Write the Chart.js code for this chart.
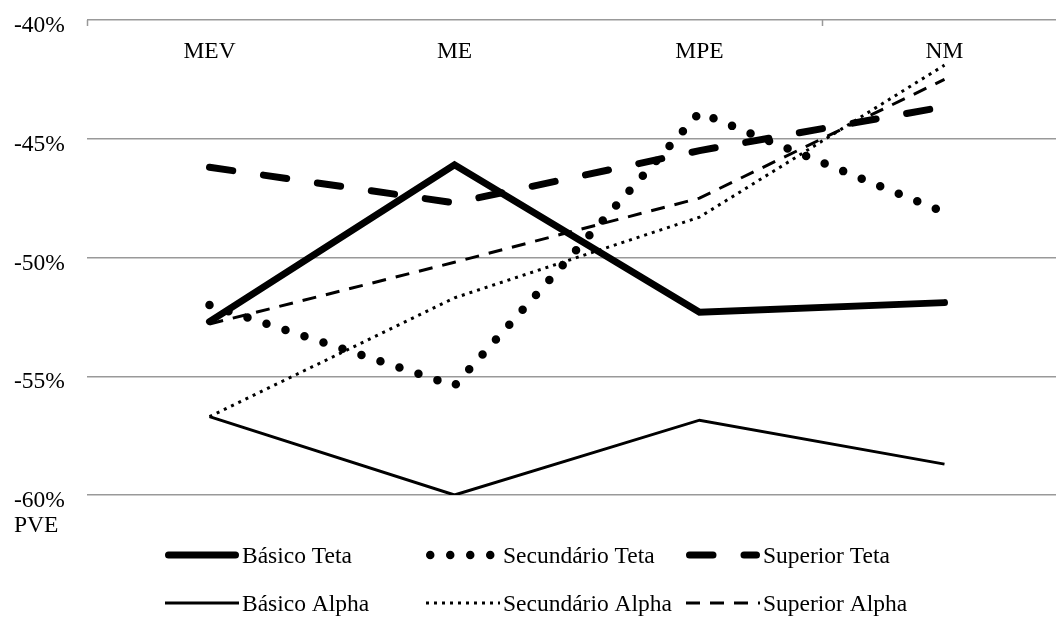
<!DOCTYPE html>
<html><head><meta charset="utf-8">
<script src="https://cdn.jsdelivr.net/npm/chart.js@4/dist/chart.umd.min.js"></script>
<style>
html,body{margin:0;padding:0;overflow:hidden;background:#fff;width:1056px;height:617px}
#wrap{position:relative;width:1070px;height:617px}
</style></head>
<body><div id="wrap"><canvas id="c" width="1070" height="617"></canvas></div>
<script>
const categories = ['MEV', 'ME', 'MPE', 'NM'];
const basicoTeta = [-52.7, -46.1, -52.3, -51.9];
const secundarioTeta = [-52.0, -55.4, -43.9, -48.1];
const superiorTeta = [-46.2, -47.7, -45.5, -43.65];
const basicoAlpha = [-56.7, -60.0, -56.85, -58.7];
const secundarioAlpha = [-56.7, -51.7, -48.3, -41.9];
const superiorAlpha = [-52.8, -50.2, -47.5, -42.5];
const yTicks = [-60, -55, -50, -45, -40];
const yAxisTitle = 'PVE';
const seriesNames = ['Básico Teta', 'Secundário Teta', 'Superior Teta', 'Básico Alpha', 'Secundário Alpha', 'Superior Alpha'];

const FONT = '"Liberation Serif", "Times New Roman", serif';
const FSIZE = 23.5;
const styles = [
  {w: 7, dash: [], cap: 'round'},
  {w: 8.5, dash: [0, 20], cap: 'round'},
  {w: 7, dash: [23.5, 31], cap: 'round'},
  {w: 3, dash: [], cap: 'butt'},
  {w: 3, dash: [3, 5], cap: 'butt'},
  {w: 3, dash: [14, 10], cap: 'butt'}
];
const seriesData = [basicoTeta, secundarioTeta, superiorTeta, basicoAlpha, secundarioAlpha, superiorAlpha];

const datasets = seriesData.map((d, i) => ({
  label: seriesNames[i],
  data: d,
  borderColor: '#000',
  backgroundColor: '#000',
  borderWidth: styles[i].w,
  borderDash: styles[i].dash,
  borderCapStyle: styles[i].cap,
  borderJoinStyle: 'miter',
  pointRadius: 0,
  pointHoverRadius: 0,
  tension: 0,
  fill: false
}));

const decor = {
  id: 'decor',
  afterDraw(chart) {
    const {ctx, chartArea: a, scales: {x, y}} = chart;
    ctx.save();
    // tick marks on category axis (interval 3)
    ctx.strokeStyle = '#999';
    ctx.lineWidth = 1.5;
    [-0.5, 2.5].forEach(v => {
      const px = Math.round(x.getPixelForValue(v)) + 0.5;
      ctx.beginPath();
      ctx.moveTo(px, a.top);
      ctx.lineTo(px, a.top + 6);
      ctx.stroke();
    });
    // category labels
    ctx.fillStyle = '#000';
    ctx.font = FSIZE + 'px ' + FONT;
    ctx.textAlign = 'center';
    ctx.textBaseline = 'middle';
    categories.forEach((c, i) => ctx.fillText(c, x.getPixelForValue(i), a.top + 32));
    // axis title
    ctx.textAlign = 'left';
    ctx.fillText(yAxisTitle, 14, y.getPixelForValue(yTicks[0]) + 31);
    // legend grid
    const textXs = [242, 503, 763];
    const rowYs = [555, 603];
    datasets.forEach((ds, i) => {
      const col = i % 3, row = Math.floor(i / 3);
      const tx = textXs[col], ly = rowYs[row];
      const st = styles[i];
      const inset = st.cap === 'round' ? st.w / 2 : 0;
      ctx.save();
      ctx.strokeStyle = '#000';
      ctx.lineWidth = st.w;
      ctx.lineCap = st.cap;
      ctx.setLineDash(st.dash);
      ctx.beginPath();
      ctx.moveTo(tx - 77 + inset, ly);
      ctx.lineTo(tx - 3 - inset, ly);
      ctx.stroke();
      ctx.restore();
      ctx.fillStyle = '#000';
      ctx.textAlign = 'left';
      ctx.textBaseline = 'middle';
      ctx.fillText(ds.label, tx, ly + 2);
    });
    ctx.restore();
  }
};

new Chart(document.getElementById('c'), {
  type: 'line',
  data: {labels: categories, datasets},
  plugins: [decor],
  options: {
    responsive: false,
    animation: false,
    events: [],
    layout: {padding: {top: 20, bottom: 122, left: 14, right: 3}},
    plugins: {legend: {display: false}, title: {display: false}, tooltip: {enabled: false}},
    scales: {
      x: {type: 'category', position: 'top', display: false, offset: true},
      y: {
        min: -60, max: -40,
        afterBuildTicks(s) { s.ticks = yTicks.map(v => ({value: v})); },
        afterFit(s) { s.width = 73; },
        border: {display: false},
        grid: {color: '#999', lineWidth: 1.5, drawTicks: false},
        ticks: {
          crossAlign: 'far',
          labelOffset: 6,
          color: '#000',
          font: {family: FONT, size: FSIZE},
          callback: v => v + '%'
        }
      }
    }
  }
});
</script>
</body></html>
